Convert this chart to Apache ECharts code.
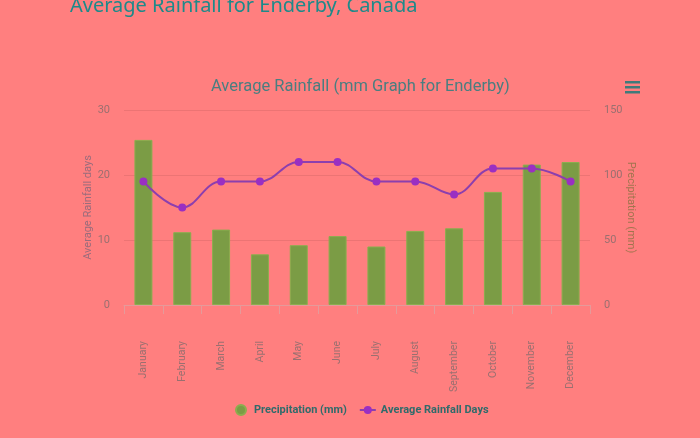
<!DOCTYPE html>
<html>
<head>
<meta charset="utf-8">
<script src="https://cdn.jsdelivr.net/npm/echarts@6/dist/echarts.min.js"></script>
<style>
html,body{margin:0;padding:0;background:#FF7F7F;}
#c{width:700px;height:438px;}
</style>
</head>
<body>
<div id="c"></div>
<script>
var months = ['January','February','March','April','May','June','July','August','September','October','November','December'];
var precipitation = [127, 56, 58, 39, 46, 53, 45, 57, 59, 87, 108, 110];
var rainfallDays = [19, 15, 19, 19, 22, 22, 19, 19, 17, 21, 21, 19];

var chart = echarts.init(document.getElementById('c'), null, {renderer: 'canvas'});
chart.setOption({
  backgroundColor: '#FF7F7F',
  animation: false,
  title: [
    {text: 'Average Rainfall for Enderby, Canada', left: 65, top: -9,
     textStyle: {color: '#1d8a8a', fontSize: 20, fontWeight: 'normal', fontFamily: 'Noto Sans'}},
    {text: 'Average Rainfall (mm Graph for Enderby)', top: 73, left: 206,
     textStyle: {color: '#4a7e80', fontSize: 16.5, fontWeight: 'normal', fontFamily: 'Roboto'}}
  ],
  graphic: [
    {type: 'group', left: 625, top: 81, children: [
      {type: 'rect', shape: {x: 0, y: 0, width: 15, height: 2.5}, style: {fill: '#3f7a7a'}},
      {type: 'rect', shape: {x: 0, y: 5, width: 15, height: 2.5}, style: {fill: '#3f7a7a'}},
      {type: 'rect', shape: {x: 0, y: 10, width: 15, height: 2.5}, style: {fill: '#3f7a7a'}}
    ]}
  ],
  legend: {
    bottom: 17, left: 230,
    itemGap: 12, itemWidth: 16, itemHeight: 10,
    textStyle: {color: '#2f6b6b', fontWeight: 'bold', fontSize: 11, fontFamily: 'Roboto'},
    data: [
      {name: 'Precipitation (mm)', icon: 'circle'},
      {name: 'Average Rainfall Days'}
    ]
  },
  grid: {left: 124, right: 110, top: 110, bottom: 133},
  xAxis: {
    type: 'category', data: months, boundaryGap: true,
    axisLine: {lineStyle: {color: '#e59a9a', width: 1}},
    axisTick: {show: true, length: 9, lineStyle: {color: '#e59a9a'}},
    axisLabel: {rotate: 90, margin: 36, color: '#9a7070', fontSize: 10.5, fontFamily: 'Roboto'}
  },
  yAxis: [
    {type: 'value', min: 0, max: 30, interval: 10, position: 'left',
     name: 'Average Rainfall days', nameLocation: 'middle', nameGap: 30, nameMoveOverlap: false,
     nameTextStyle: {color: '#9a6c7c', fontSize: 11, fontFamily: 'Roboto'},
     axisLine: {show: false}, axisTick: {show: false},
     axisLabel: {color: '#9a7070', fontSize: 11, margin: 14, fontFamily: 'Roboto'},
     splitLine: {lineStyle: {color: '#ec7474', width: 1}}},
    {type: 'value', min: 0, max: 150, interval: 50, position: 'right',
     name: 'Precipitation (mm)', nameLocation: 'middle', nameGap: 35, nameRotate: -90, nameMoveOverlap: false,
     nameTextStyle: {color: '#a2744e', fontSize: 11, fontFamily: 'Roboto'},
     axisLine: {show: false}, axisTick: {show: false},
     axisLabel: {color: '#9a7070', fontSize: 11, margin: 14, fontFamily: 'Roboto'},
     splitLine: {show: false}}
  ],
  series: [
    {name: 'Precipitation (mm)', type: 'bar', yAxisIndex: 1, data: precipitation,
     barWidth: 18, z: 2,
     itemStyle: {color: '#7b9c45', borderColor: '#8aae4e', borderWidth: 1}},
    {name: 'Average Rainfall Days', type: 'line', yAxisIndex: 0, data: rainfallDays,
     smooth: 0.4, z: 3, symbol: 'circle', symbolSize: 8,
     lineStyle: {color: '#8c3fae', width: 2},
     itemStyle: {color: '#9a2fc2'}}
  ]
});
</script>
</body>
</html>
